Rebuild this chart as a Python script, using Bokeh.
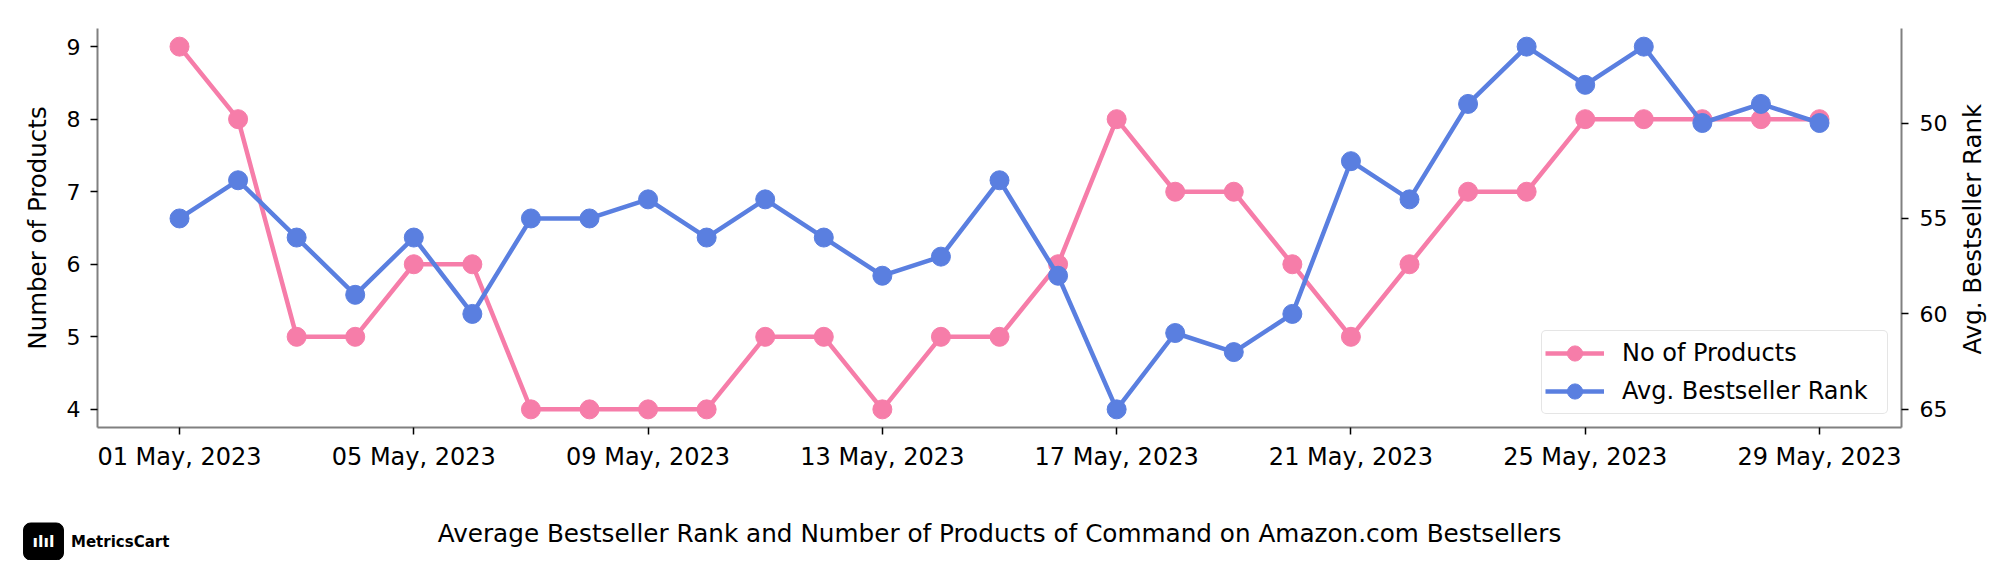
import math
from datetime import datetime
from bokeh.plotting import figure
from bokeh.layouts import column, row
from bokeh.models import (Range1d, LinearAxis, FixedTicker, DatetimeTickFormatter,
                          Legend, LegendItem, Label, ColumnDataSource)
from bokeh.embed import file_html
from bokeh.resources import INLINE

# ---------------- data ----------------
dates = ["2023-05-01", "2023-05-02", "2023-05-03", "2023-05-04", "2023-05-05",
         "2023-05-06", "2023-05-07", "2023-05-08", "2023-05-09", "2023-05-10",
         "2023-05-11", "2023-05-12", "2023-05-13", "2023-05-14", "2023-05-15",
         "2023-05-16", "2023-05-17", "2023-05-18", "2023-05-19", "2023-05-20",
         "2023-05-21", "2023-05-22", "2023-05-23", "2023-05-24", "2023-05-25",
         "2023-05-26", "2023-05-27", "2023-05-28", "2023-05-29"]
num_products = [9, 8, 5, 5, 6, 6, 4, 4, 4, 4, 5, 5, 4, 5, 5, 6, 8, 7, 7, 6,
                5, 6, 7, 7, 8, 8, 8, 8, 8]
avg_rank = [55, 53, 56, 59, 56, 60, 55, 55, 54, 56, 54, 56, 58, 57, 53, 58, 65,
            61, 62, 60, 52, 54, 49, 46, 48, 46, 50, 49, 50]
x_tick_dates = ["2023-05-01", "2023-05-05", "2023-05-09", "2023-05-13",
                "2023-05-17", "2023-05-21", "2023-05-25", "2023-05-29"]
left_ticks = [4, 5, 6, 7, 8, 9]
right_ticks = [50, 55, 60, 65]

left_label = "Number of Products"
right_label = "Avg. Bestseller Rank"
title_text = "Average Bestseller Rank and Number of Products of Command on Amazon.com Bestsellers"
brand_text = "MetricsCart"

PINK = "#F67DA9"
BLUE = "#5A7FE0"
FONT = "DejaVu Sans"

x = [datetime.strptime(d, "%Y-%m-%d") for d in dates]
src = ColumnDataSource(dict(x=x, n=num_products, r=avg_rank))

# margins like matplotlib (5%)
span_x = x[-1] - x[0]
x_start = x[0] - span_x * 0.05
x_end = x[-1] + span_x * 0.05
ln, hn = min(num_products), max(num_products)
lr, hr = min(avg_rank), max(avg_rank)

W = 2000
MAIN_W = 1955
SIDE_W = W - MAIN_W
TOP_H = 480
BL = 97
BR = MAIN_W - 1901

p = figure(width=MAIN_W, height=TOP_H, output_backend="svg", toolbar_location=None,
           x_axis_type="datetime",
           x_range=Range1d(x_start, x_end),
           y_range=Range1d(ln - 0.05 * (hn - ln), hn + 0.05 * (hn - ln)),
           min_border_left=BL, min_border_right=BR, min_border_top=28,
           min_border_bottom=53)
p.extra_y_ranges = {"rank": Range1d(hr + 0.05 * (hr - lr), lr - 0.05 * (hr - lr))}

p.outline_line_color = None
p.xgrid.visible = False
p.ygrid.visible = False
p.background_fill_color = "white"
p.border_fill_color = "white"

pl = p.line("x", "n", source=src, line_color=PINK, line_width=4.5)
ps = p.scatter("x", "n", source=src, size=19, fill_color=PINK, line_color=PINK)
bl = p.line("x", "r", source=src, line_color=BLUE, line_width=4.5, y_range_name="rank")
bs = p.scatter("x", "r", source=src, size=19, fill_color=BLUE, line_color=BLUE,
               y_range_name="rank")

right_axis = LinearAxis(y_range_name="rank")
p.add_layout(right_axis, "right")


def style_axis(ax, tick_size):
    ax.axis_line_color = "#808080"
    ax.axis_line_width = 2
    ax.major_tick_line_color = "black"
    ax.major_tick_line_width = 1.5
    ax.major_tick_out = 7
    ax.major_tick_in = 0
    ax.minor_tick_line_color = None
    ax.major_label_text_font = FONT
    ax.major_label_text_font_size = tick_size
    ax.major_label_text_color = "black"
    ax.axis_label_text_font = FONT
    ax.axis_label_text_font_size = "24.5px"
    ax.axis_label_text_font_style = "normal"
    ax.axis_label_text_color = "black"


xa = p.xaxis[0]
style_axis(xa, "24px")
xa.ticker = FixedTicker(ticks=[datetime.strptime(d, "%Y-%m-%d").timestamp() * 1000
                               for d in x_tick_dates])
fmt = "%d %b, %Y"
xa.formatter = DatetimeTickFormatter(days=fmt, months=fmt, years=fmt, hours=fmt,
                                     hourmin=fmt, minutes=fmt, minsec=fmt,
                                     seconds=fmt, milliseconds=fmt, microseconds=fmt)
xa.major_label_standoff = 8

ya = p.yaxis[0]
style_axis(ya, "22px")
ya.ticker = FixedTicker(ticks=left_ticks)
ya.axis_label = left_label
ya.major_label_standoff = 10
ya.axis_label_standoff = 12

style_axis(right_axis, "22px")
right_axis.ticker = FixedTicker(ticks=right_ticks)
right_axis.major_label_standoff = 11

legend = Legend(items=[LegendItem(label="No of Products", renderers=[pl, ps]),
                       LegendItem(label="Avg. Bestseller Rank", renderers=[bl, bs])],
                location="bottom_right")
legend.margin = 13
legend.padding = 3
legend.spacing = 0
legend.glyph_width = 59
legend.glyph_height = 38
legend.label_height = 38
legend.label_width = 262
legend.label_standoff = 18
legend.label_text_font = FONT
legend.label_text_font_size = "24px"
legend.label_text_color = "black"
legend.border_line_color = "#cccccc"
legend.border_line_width = 1.5
legend.background_fill_color = "white"
legend.background_fill_alpha = 1.0
if "border_radius" in legend.properties():
    legend.border_radius = 5
p.add_layout(legend)


def blank(fig):
    fig.outline_line_color = None
    fig.xgrid.visible = False
    fig.ygrid.visible = False
    fig.background_fill_color = "white"
    fig.border_fill_color = "white"
    if "frame_align" in fig.properties():
        fig.frame_align = False


# ---------------- right side strip (axis title reading bottom-to-top) ----------------
side = figure(width=SIDE_W, height=TOP_H, output_backend="svg", toolbar_location=None,
              x_range=Range1d(MAIN_W, W), y_range=Range1d(TOP_H, 0),
              x_axis_location=None, y_axis_location=None,
              min_border_left=0, min_border_right=0, min_border_top=0,
              min_border_bottom=0)
blank(side)
side.add_layout(Label(x=1972, y=228.7, text=right_label, angle=math.pi / 2,
                      text_align="center", text_baseline="middle", text_font=FONT,
                      text_font_size="24.5px", text_color="black"))

# ---------------- footer (title + brand) ----------------
footer = figure(width=W, height=80, output_backend="svg", toolbar_location=None,
                x_range=Range1d(0, W), y_range=Range1d(560, 480),
                x_axis_location=None, y_axis_location=None,
                min_border_left=0, min_border_right=0, min_border_top=0,
                min_border_bottom=0)
blank(footer)
if "frame_align" in p.properties():
    p.frame_align = False

footer.add_layout(Label(x=999, y=532.7, text=title_text, text_align="center",
                        text_baseline="middle", text_font=FONT,
                        text_font_size="24.7px", text_color="black"))
footer.add_layout(Label(x=43, y=541, text="ılıl", text_align="center",
                        text_baseline="middle", text_font=FONT,
                        text_font_size="16px", text_font_style="bold",
                        text_color="white", background_fill_color="black",
                        border_line_color="black", padding=9, border_radius=7))
footer.add_layout(Label(x=70.5, y=541.7, text=brand_text, text_align="left",
                        text_baseline="middle", text_font=FONT,
                        text_font_size="15px", text_font_style="bold",
                        text_color="black"))

layout = column(row(p, side, spacing=0), footer, spacing=0)
open("out.html", "w").write(file_html(layout, INLINE))
